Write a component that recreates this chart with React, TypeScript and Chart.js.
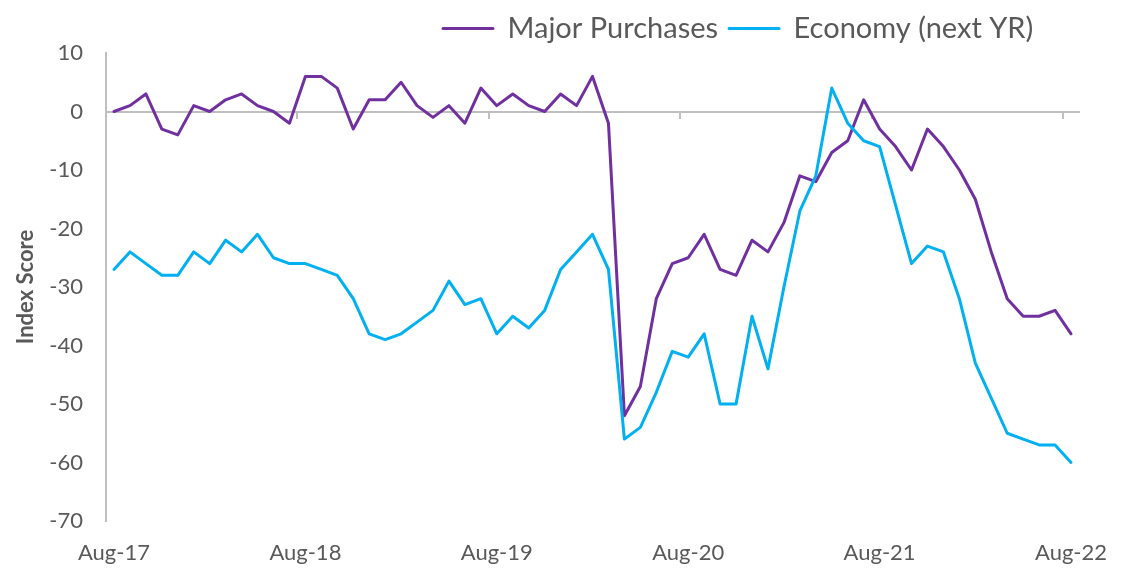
import React, { useEffect, useRef } from "react";
import { Chart, registerables } from "chart.js";

Chart.register(...registerables);

const months = [
  "Aug-17", "Sep-17", "Oct-17", "Nov-17", "Dec-17",
  "Jan-18", "Feb-18", "Mar-18", "Apr-18", "May-18", "Jun-18", "Jul-18", "Aug-18", "Sep-18", "Oct-18", "Nov-18", "Dec-18",
  "Jan-19", "Feb-19", "Mar-19", "Apr-19", "May-19", "Jun-19", "Jul-19", "Aug-19", "Sep-19", "Oct-19", "Nov-19", "Dec-19",
  "Jan-20", "Feb-20", "Mar-20", "Apr-20", "May-20", "Jun-20", "Jul-20", "Aug-20", "Sep-20", "Oct-20", "Nov-20", "Dec-20",
  "Jan-21", "Feb-21", "Mar-21", "Apr-21", "May-21", "Jun-21", "Jul-21", "Aug-21", "Sep-21", "Oct-21", "Nov-21", "Dec-21",
  "Jan-22", "Feb-22", "Mar-22", "Apr-22", "May-22", "Jun-22", "Jul-22", "Aug-22",
];

const majorPurchases = [
  0, 1, 3, -3, -4, 1, 0, 2, 3, 1, 0, -2,
  6, 6, 4, -3, 2, 2, 5, 1, -1, 1, -2, 4,
  1, 3, 1, 0, 3, 1, 6, -2, -52, -47, -32, -26,
  -25, -21, -27, -28, -22, -24, -19, -11, -12, -7, -5, 2,
  -3, -6, -10, -3, -6, -10, -15, -24, -32, -35, -35, -34,
  -38,
];

const economyNextYr = [
  -27, -24, -26, -28, -28, -24, -26, -22, -24, -21, -25, -26,
  -26, -27, -28, -32, -38, -39, -38, -36, -34, -29, -33, -32,
  -38, -35, -37, -34, -27, -24, -21, -27, -56, -54, -48, -41,
  -42, -38, -50, -50, -35, -44, -30, -17, -11, 4, -2, -5,
  -6, -16, -26, -23, -24, -32, -43, -49, -55, -56, -57, -57,
  -60,
];

const seriesNames = ["Major Purchases", "Economy (next YR)"];
const yAxisTitle = "Index Score";

const PURPLE = "#7030A0";
const BLUE = "#00B0F0";
const AXIS = "#BFBFBF";
const TEXT = "#595959";
const FONT = "Lato, 'Open Sans', sans-serif";

const legendShift = {
  id: "legendShift",
  afterLayout(chart: any) {
    if (chart.legend) {
      chart.legend.left = 432;
    }
  },
};

export default function App() {
  const ref = useRef<HTMLCanvasElement | null>(null);

  useEffect(() => {
    if (!ref.current) return;
    const chart = new Chart(ref.current, {
      type: "line",
      data: {
        labels: months,
        datasets: [
          {
            label: seriesNames[0],
            data: majorPurchases,
            borderColor: PURPLE,
            backgroundColor: PURPLE,
            borderWidth: 3,
            pointRadius: 0,
            tension: 0,
            borderJoinStyle: "round",
            borderCapStyle: "round",
            order: 1,
            xAxisID: "x",
          },
          {
            label: seriesNames[1],
            data: economyNextYr,
            borderColor: BLUE,
            backgroundColor: BLUE,
            borderWidth: 3,
            pointRadius: 0,
            tension: 0,
            borderJoinStyle: "round",
            borderCapStyle: "round",
            order: 0,
            xAxisID: "x",
          },
        ],
      },
      options: {
        responsive: false,
        animation: false,
        layout: { padding: { top: 3, right: 42, left: 0, bottom: 0 } },
        plugins: {
          tooltip: { enabled: false },
          legend: {
            display: true,
            position: "top",
            align: "start",
            labels: {
              boxWidth: 50,
              boxHeight: 0,
              padding: 11,
              color: TEXT,
              font: { family: FONT, size: 29 },
              sort: (a: any, b: any) => a.datasetIndex - b.datasetIndex,
            },
          },
        },
        scales: {
          x: {
            type: "category",
            position: "bottom",
            offset: true,
            grid: { display: false, drawTicks: false },
            border: { display: false },
            ticks: {
              autoSkip: false,
              maxRotation: 0,
              minRotation: 0,
              padding: 19,
              color: TEXT,
              font: { family: FONT, size: 22 },
              callback: (_v: any, i: number) => (i % 12 === 0 ? months[i] : null),
            },
            afterFit: (scale: any) => {
              scale.height = 48;
              scale.paddingLeft = 0;
              scale.paddingRight = 0;
            },
          },
          x2: {
            type: "category",
            position: { y: 0 },
            offset: true,
            grid: {
              display: true,
              offset: true,
              drawOnChartArea: false,
              drawTicks: true,
              tickLength: 6,
              lineWidth: 2,
              color: (ctx: any) => (ctx.index % 12 === 0 ? AXIS : "rgba(0,0,0,0)"),
            },
            border: { display: true, color: AXIS, width: 2 },
            ticks: { display: false },
            afterFit: (scale: any) => {
              scale.paddingLeft = 0;
              scale.paddingRight = 0;
            },
          },
          y: {
            type: "linear",
            position: "left",
            min: -70,
            max: 10,
            grid: { display: false, drawTicks: false },
            border: { display: true, color: AXIS, width: 2 },
            ticks: {
              stepSize: 10,
              padding: 23,
              color: TEXT,
              font: { family: FONT, size: 22 },
            },
            title: {
              display: true,
              text: yAxisTitle,
              color: TEXT,
              font: { family: FONT, size: 22, weight: "bold" },
              padding: { top: 13, bottom: 0 },
            },
            afterFit: (scale: any) => {
              scale.width = 106;
            },
          },
        },
      },
      plugins: [legendShift],
    } as any);
    return () => chart.destroy();
  }, []);

  return (
    <div style={{ position: "absolute", left: 0, top: 0, width: 1121, height: 569, background: "#fff" }}>
      <canvas ref={ref} width={1121} height={569} style={{ display: "block" }} />
    </div>
  );
}
